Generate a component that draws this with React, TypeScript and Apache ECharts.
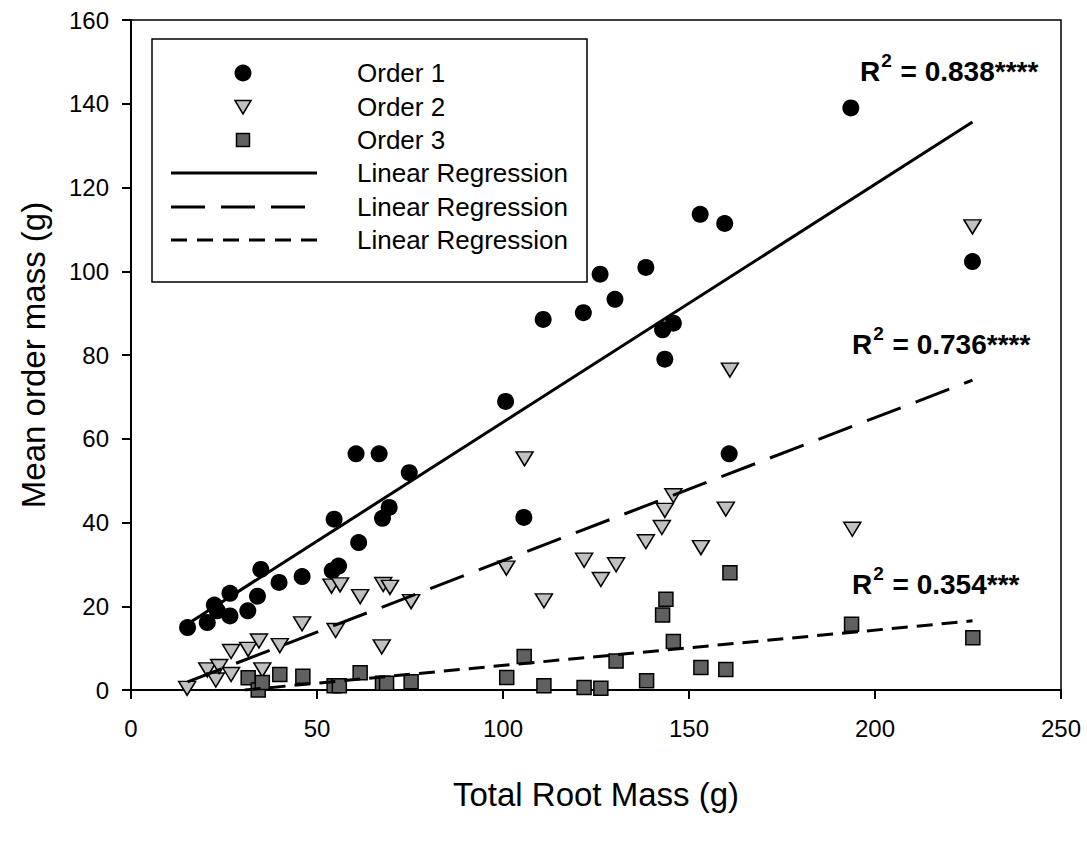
import React, { useEffect, useRef } from "react";
import * as echarts from "echarts";

const FONT = '"Liberation Sans", Arial, Helvetica, sans-serif';

// [Total Root Mass (g), Mean order mass (g)]
const order1: number[][] = [
  [15.2, 14.9], [20.5, 16.1], [22.4, 20.3], [23.2, 18.9], [26.6, 17.7], [26.6, 23.1],
  [31.4, 18.9], [34.0, 22.4], [34.9, 28.8], [39.8, 25.7], [46.0, 27.1], [54.1, 28.5],
  [54.6, 40.8], [55.8, 29.6], [60.5, 56.4], [61.2, 35.2], [66.7, 56.4], [67.6, 41.0],
  [69.4, 43.6], [74.8, 51.9], [100.7, 68.9], [105.6, 41.2], [110.8, 88.5], [121.6, 90.1],
  [126.1, 99.3], [130.1, 93.3], [138.4, 100.9], [142.9, 86.0], [143.5, 79.0], [145.8, 87.6],
  [153.0, 113.6], [159.6, 111.4], [160.8, 56.4], [193.5, 139.0], [226.2, 102.3],
];

const order2: number[][] = [
  [15.1, 0.4], [20.5, 4.8], [22.8, 2.4], [23.7, 5.6], [26.9, 3.7], [26.9, 9.2],
  [31.5, 9.7], [34.4, 11.7], [35.3, 4.8], [40.0, 10.6], [46.0, 15.8], [53.9, 24.8],
  [55.0, 14.2], [56.2, 25.1], [61.6, 22.3], [67.4, 10.3], [67.8, 25.2], [69.6, 24.5],
  [75.3, 21.1], [100.9, 29.1], [105.8, 55.2], [111.0, 21.3], [121.8, 31.0], [126.3, 26.4],
  [130.4, 29.9], [138.4, 35.4], [142.7, 38.8], [143.5, 42.9], [145.8, 46.4], [153.2, 34.0],
  [159.9, 43.2], [161.0, 76.4], [193.9, 38.4], [226.2, 110.6],
];

const order3: number[][] = [
  [31.5, 2.9], [34.2, 0.0], [35.3, 1.8], [40.0, 3.7], [46.2, 3.3], [54.6, 1.0],
  [56.0, 1.0], [61.6, 4.1], [67.6, 1.6], [68.7, 1.6], [75.3, 2.0], [101.0, 3.0],
  [105.7, 8.0], [111.0, 1.0], [121.8, 0.6], [126.3, 0.4], [130.4, 6.9], [138.6, 2.2],
  [142.9, 17.9], [143.8, 21.7], [145.8, 11.6], [153.2, 5.4], [159.9, 4.9], [161.0, 28.0],
  [193.7, 15.7], [226.3, 12.5],
];

// regression lines: [intercept, slope]
const fit1 = [7.15, 0.568];
const fit2 = [-3.26, 0.3415];
const fit3 = [-2.58, 0.0844];

const r2Texts = ["0.838****", "0.736****", "0.354***"];
const legendLabels = ["Order 1", "Order 2", "Order 3", "Linear Regression", "Linear Regression", "Linear Regression"];

const xTicks = { min: 0, max: 250, interval: 50 };
const yTicks = { min: 0, max: 160, interval: 20 };

const DASH2 = [36, 16];
const DASH3 = [16, 9];

function fitLine(fit: number[], pts: number[][]): number[][] {
  const xs = pts.map((p) => p[0]);
  let x0 = Math.min(...xs);
  const x1 = Math.max(...xs);
  // start where the fitted line enters the plotted range (y >= 0)
  if (fit[0] + fit[1] * x0 < 0) x0 = -fit[0] / fit[1];
  return [
    [x0, fit[0] + fit[1] * x0],
    [x1, fit[0] + fit[1] * x1],
  ];
}

export default function App() {
  const ref = useRef<HTMLDivElement>(null);

  useEffect(() => {
    if (!ref.current) return;
    const chart = echarts.init(ref.current, undefined, { renderer: "svg" });

    const axisCommon = {
      type: "value" as const,
      nameLocation: "middle" as const,
      nameTextStyle: { fontSize: 33, color: "#000", fontFamily: FONT },
      axisLine: { onZero: false, lineStyle: { color: "#000", width: 2 } },
      axisTick: { inside: false, length: 9, lineStyle: { color: "#000", width: 2 } },
      splitLine: { show: false },
    };

    const rich = {
      m: {
        fontSize: 28,
        fontWeight: "bold",
        fontFamily: FONT,
        color: "#000",
        lineHeight: 28,
        verticalAlign: "bottom",
      },
      s: {
        fontSize: 19,
        fontWeight: "bold",
        fontFamily: FONT,
        color: "#000",
        lineHeight: 19,
        verticalAlign: "bottom",
        padding: [0, 1, 15, 1],
      },
    };

    const r2Pos = [
      [860, 85],
      [852, 358],
      [852, 598],
    ];

    // legend (drawn as graphics so the icons match the original layout)
    const rowY = [73, 107, 140, 173, 207, 240];
    const symX = 243;
    const lineX0 = 171;
    const lineX1 = 317;
    const textX = 357;
    const legendGraphics: any[] = [
      {
        type: "rect",
        shape: { x: 152, y: 39, width: 435, height: 243 },
        style: { fill: "#fff", stroke: "#000", lineWidth: 1.5 },
        z: 1,
      },
      {
        type: "circle",
        shape: { cx: symX, cy: rowY[0], r: 8.5 },
        style: { fill: "#000" },
        z: 2,
      },
      {
        type: "polygon",
        shape: {
          points: [
            [symX - 8, rowY[1] - 6.5],
            [symX + 8, rowY[1] - 6.5],
            [symX, rowY[1] + 7],
          ],
        },
        style: { fill: "#c0c0c0", stroke: "#000", lineWidth: 1.5 },
        z: 2,
      },
      {
        type: "rect",
        shape: { x: symX - 6.5, y: rowY[2] - 6.5, width: 13, height: 13 },
        style: { fill: "#606060", stroke: "#000", lineWidth: 1.5 },
        z: 2,
      },
      {
        type: "line",
        shape: { x1: lineX0, y1: rowY[3], x2: lineX1, y2: rowY[3] },
        style: { stroke: "#000", lineWidth: 3 },
        z: 2,
      },
      {
        type: "line",
        shape: { x1: lineX0, y1: rowY[4], x2: lineX1 - 12, y2: rowY[4] },
        style: { stroke: "#000", lineWidth: 3, lineDash: [34, 16] },
        z: 2,
      },
      {
        type: "line",
        shape: { x1: lineX0, y1: rowY[5], x2: lineX1, y2: rowY[5] },
        style: { stroke: "#000", lineWidth: 3, lineDash: [16, 10] },
        z: 2,
      },
      ...legendLabels.map((t, i) => ({
        type: "text",
        x: textX,
        y: rowY[i],
        z: 2,
        style: {
          text: t,
          fill: "#000",
          font: `26px ${FONT}`,
          textAlign: "left",
          textVerticalAlign: "middle",
        },
      })),
    ];

    const option: any = {
      animation: false,
      backgroundColor: "#fff",
      grid: {
        left: 131,
        top: 20,
        right: 26,
        bottom: 151,
        show: true,
        borderColor: "#000",
        borderWidth: 1.5,
        backgroundColor: "transparent",
      },
      xAxis: {
        ...axisCommon,
        ...xTicks,
        name: "Total Root Mass (g)",
        nameGap: 88,
        axisLabel: { margin: 26, fontSize: 24, color: "#000", fontFamily: FONT },
      },
      yAxis: {
        ...axisCommon,
        ...yTicks,
        name: "Mean order mass (g)",
        nameGap: 81,
        axisLabel: { margin: 22, fontSize: 24, color: "#000", fontFamily: FONT },
      },
      series: [
        {
          name: "Order 1",
          type: "scatter",
          data: order1,
          symbol: "circle",
          symbolSize: 17,
          itemStyle: { color: "#000", opacity: 1 },
          z: 2,
        },
        {
          name: "Order 2",
          type: "scatter",
          data: order2,
          symbol: "triangle",
          symbolRotate: 180,
          symbolSize: [17, 14],
          itemStyle: { color: "#c0c0c0", borderColor: "#000", borderWidth: 1.5, opacity: 1 },
          z: 3,
        },
        {
          name: "Order 3",
          type: "scatter",
          data: order3,
          symbol: "rect",
          symbolSize: 14,
          itemStyle: { color: "#606060", borderColor: "#000", borderWidth: 1.5, opacity: 1 },
          z: 4,
        },
        {
          name: "Linear Regression (Order 1)",
          type: "line",
          data: fitLine(fit1, order1),
          symbol: "none",
          clip: true,
          lineStyle: { color: "#000", width: 3, type: "solid" },
          z: 5,
        },
        {
          name: "Linear Regression (Order 2)",
          type: "line",
          data: fitLine(fit2, order1),
          symbol: "none",
          clip: true,
          lineStyle: { color: "#000", width: 3, type: DASH2 },
          z: 5,
        },
        {
          name: "Linear Regression (Order 3)",
          type: "line",
          data: fitLine(fit3, order1),
          symbol: "none",
          clip: true,
          lineStyle: { color: "#000", width: 3, type: DASH3 },
          z: 5,
        },
      ],
      graphic: [
        ...legendGraphics,
        ...r2Texts.map((t, i) => ({
          type: "text",
          x: r2Pos[i][0],
          y: r2Pos[i][1],
          z: 10,
          style: {
            text: `{m|R}{s|2}{m| = ${t}}`,
            rich,
            textAlign: "left",
            textVerticalAlign: "bottom",
          },
        })),
      ],
    };

    chart.setOption(option);
    return () => chart.dispose();
  }, []);

  return (
    <div
      ref={ref}
      style={{ position: "fixed", left: 0, top: 0, width: 1087, height: 841, background: "#fff" }}
    />
  );
}
